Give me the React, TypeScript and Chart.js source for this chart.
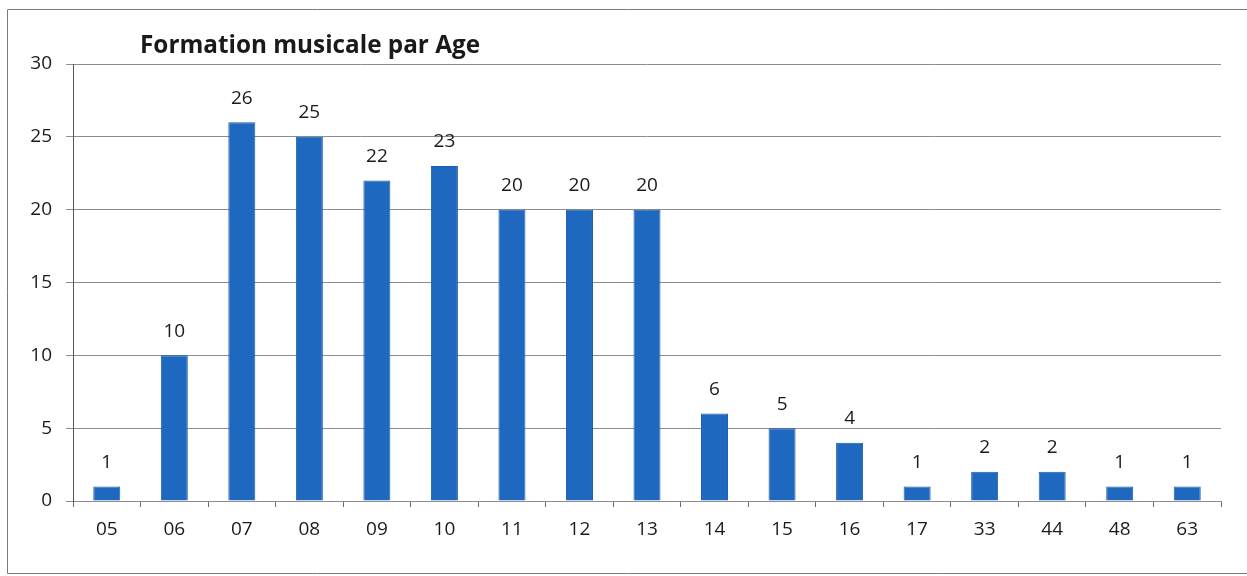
import React, { useEffect, useRef } from "react";
import { Chart, registerables } from "chart.js";

Chart.register(...registerables);

const categories = ["05", "06", "07", "08", "09", "10", "11", "12", "13", "14", "15", "16", "17", "33", "44", "48", "63"];
const values = [1, 10, 26, 25, 22, 23, 20, 20, 20, 6, 5, 4, 1, 2, 2, 1, 1];
const yTicks = [0, 5, 10, 15, 20, 25, 30];
const titleText = "Formation musicale par Age";

const FONT = "'Open Sans', 'Liberation Sans', sans-serif";

export default function App() {
  const ref = useRef<HTMLCanvasElement | null>(null);

  useEffect(() => {
    if (!ref.current) return;

    const decor = {
      id: "decor",
      beforeDraw(chart: any) {
        const ctx = chart.ctx;
        ctx.save();
        ctx.fillStyle = "#ffffff";
        ctx.fillRect(0, 0, chart.width, chart.height);
        ctx.strokeStyle = "#7a7a7a";
        ctx.lineWidth = 1;
        ctx.beginPath();
        ctx.moveTo(1247, 9.5);
        ctx.lineTo(7.5, 9.5);
        ctx.lineTo(7.5, 573.5);
        ctx.lineTo(1247, 573.5);
        ctx.stroke();
        ctx.restore();
      },
      afterDraw(chart: any) {
        const ctx = chart.ctx;
        ctx.save();
        ctx.fillStyle = "#1a1a1a";
        ctx.font = `bold 24.3px ${FONT}`;
        ctx.textAlign = "left";
        ctx.textBaseline = "alphabetic";
        ctx.fillText(titleText, chart.chartArea.left + 67, 53);
        ctx.restore();
      },
      afterDatasetsDraw(chart: any) {
        const ctx = chart.ctx;
        const meta = chart.getDatasetMeta(0);
        ctx.save();
        ctx.fillStyle = "#1a1a1a";
        ctx.font = `19px ${FONT}`;
        ctx.textAlign = "center";
        ctx.textBaseline = "middle";
        meta.data.forEach((el: any, i: number) => {
          ctx.fillText(String(values[i]), el.x, el.y - 24);
        });
        ctx.restore();
      },
    };

    const chart = new Chart(ref.current, {
      type: "bar",
      data: {
        labels: categories,
        datasets: [
          {
            data: values,
            backgroundColor: "#1f68c0",
            borderColor: "#1d5ca8",
            borderWidth: 1,
            categoryPercentage: 1,
            barPercentage: 0.4,
          },
        ],
      },
      options: {
        animation: false,
        responsive: false,
        maintainAspectRatio: false,
        layout: { padding: { top: 64, right: 26, left: 0, bottom: 0 } },
        plugins: {
          legend: { display: false },
          title: { display: false },
          tooltip: { enabled: false },
        },
        scales: {
          x: {
            afterFit(scale: any) {
              scale.height = 75;
            },
            grid: {
              offset: true,
              drawOnChartArea: false,
              drawTicks: true,
              tickLength: 6,
              color: "#6e6e6e",
            },
            border: { display: true, color: "#8c8c8c", width: 1 },
            ticks: {
              color: "#1a1a1a",
              font: { family: FONT, size: 19 },
              padding: 11,
              maxRotation: 0,
            },
          },
          y: {
            min: 0,
            max: 30,
            afterFit(scale: any) {
              scale.width = 73;
            },
            afterBuildTicks(scale: any) {
              scale.ticks = yTicks.map((v) => ({ value: v }));
            },
            grid: {
              color: "#8c8c96",
              drawTicks: true,
              tickLength: 7,
            },
            border: { display: true, color: "#555555", width: 1 },
            ticks: {
              color: "#1a1a1a",
              font: { family: FONT, size: 19 },
              padding: 14,
            },
          },
        },
      },
      plugins: [decor],
    });

    return () => chart.destroy();
  }, []);

  return (
    <div style={{ position: "absolute", left: 0, top: 0, width: 1247, height: 576 }}>
      <canvas ref={ref} width={1247} height={576} style={{ width: 1247, height: 576, display: "block" }} />
    </div>
  );
}
